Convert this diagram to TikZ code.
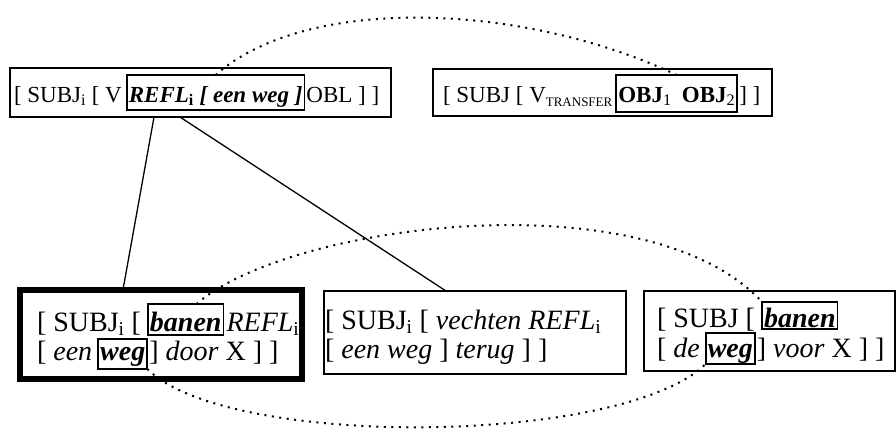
\documentclass[tikz,border=0pt]{standalone}
\usepackage{fontspec}
\setmainfont{Liberation Serif}
\usetikzlibrary{calc}
\newcommand{\lsub}[1]{\textsubscript{#1}}
\begin{document}
\begin{tikzpicture}[x=1pt,y=-1pt,
  outerbox/.style={draw, line width=1.2pt, inner sep=0pt, outer sep=0pt},
  lowbox/.style={draw, line width=2.4pt, inner sep=0pt, outer sep=0pt},
  heavybox/.style={draw, line width=6pt, inner sep=0pt, outer sep=0pt},
  word/.style={inner sep=0pt, outer sep=0pt, anchor=base west},
  topfont/.style={font=\fontsize{23}{27}\selectfont},
  botfont/.style={font=\fontsize{28}{32}\selectfont},
  framed/.style={draw, line width=1.8pt, inner xsep=2pt, inner ysep=0pt, outer sep=0pt, anchor=base west},
  link/.style={line width=1.3pt},
  dotline/.style={line width=2pt, dash pattern=on 2pt off 5.5pt}
]
\useasboundingbox (0,0) rectangle (896,439);

% top left
\node[outerbox, minimum width=381pt, minimum height=49pt] (tl) at (200.5,92.5) {};
\node[word, topfont] (tl1) at (14,102) {[ SUBJ\lsub{i} [ V};
\node[framed, topfont, text height=27pt, text depth=8pt] (refl) at ($(tl1.base east)+(5,0)$) {\bfseries\itshape REFL\lsub{\upshape i} [ een weg ]};
\node[word, topfont] (tl3) at ($(refl.base east)+(2,0)$) {OBL ] ]};

% top right
\node[outerbox, minimum width=339pt, minimum height=47pt] (tr) at (602.5,92.5) {};
\node[word, topfont] (tr1) at (443,102) {[ SUBJ [ V\raisebox{-4pt}{\fontsize{13}{13}\selectfont TRANSFER}};
\node[framed, topfont, text height=27pt, text depth=10pt] (obj) at ($(tr1.base east)+(4,0)$) {\bfseries OBJ\lsub{\mdseries 1}\hspace{0.45em}OBJ\lsub{\mdseries 2}};
\node[word, topfont] (tr3) at ($(obj.base east)+(2,0)$) {] ]};

% bottom left (heavy)
\node[heavybox, minimum width=282pt, minimum height=89pt] (boxA) at (161,334.5) {};
\node[word, botfont] (a1) at (37,331) {[ SUBJ\lsub{i} [};
\node[framed, botfont, text height=27pt, text depth=4pt] (banenA) at ($(a1.base east)+(7,0)$) {\bfseries\itshape banen};
\node[word, botfont] (a2) at ($(banenA.base east)+(3,0)$) {\itshape REFL\lsub{\upshape i}};
\node[word, botfont] (a3) at (37,360) {[ \textit{een}};
\node[framed, botfont, text height=21pt, text depth=9pt] (wegA) at ($(a3.base east)+(6,0)$) {\bfseries\itshape weg};
\node[word, botfont] (a4) at ($(wegA.base east)+(2,0)$) {] \textit{door} X ] ]};

% bottom middle
\node[lowbox, minimum width=302pt, minimum height=83pt] (boxB) at (475,332.5) {};
\node[word, botfont] (b1) at (325,329) {[ SUBJ\lsub{i} [ \textit{vechten REFL}\lsub{i}};
\node[word, botfont] (b2) at (325,358) {[ \textit{een weg} ] \textit{terug} ] ]};

% bottom right
\node[lowbox, minimum width=251pt, minimum height=80pt] (boxC) at (769.5,331) {};
\node[word, botfont] (c1) at (657,327) {[ SUBJ [};
\node[framed, botfont, text height=25pt, text depth=2pt] (banenC) at ($(c1.base east)+(7,0)$) {\bfseries\itshape banen};
\node[word, botfont] (c2) at (657,357) {[ \textit{de}};
\node[framed, botfont, text height=24pt, text depth=7pt] (wegC) at ($(c2.base east)+(6,0)$) {\bfseries\itshape weg};
\node[word, botfont] (c3) at ($(wegC.base east)+(2,0)$) {] \textit{voor} X ] ]};

% connectors
\draw[link] ($(tl.south west)!0.378!(tl.south east)$) -- ($(boxA.north west)!0.365!(boxA.north east)$);
\draw[link] ($(tl.south west)!0.446!(tl.south east)$) -- ($(boxB.north west)!0.404!(boxB.north east)$);

% dotted curves
\draw[dotline] (refl.north) .. controls +(90,-80) and +(-155,-73) .. (obj.north);
\draw[dotline] (banenA.55) .. controls +(90,-80) and +(-115,-125) .. (banenC.north west);
\draw[dotline] (wegA.south east) .. controls +(80,80) and +(-85,82) .. (wegC.south west);
\end{tikzpicture}
\end{document}
